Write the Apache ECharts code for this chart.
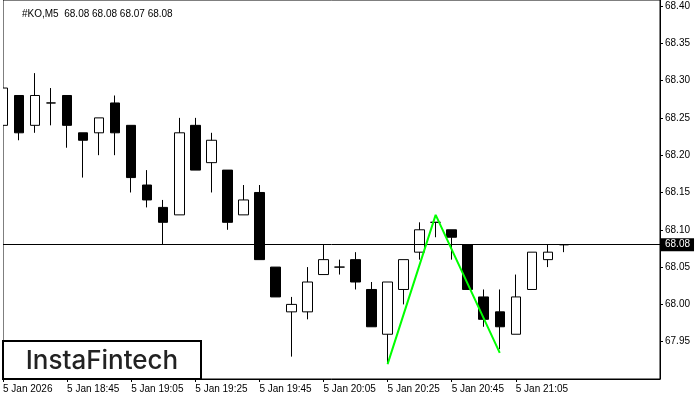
<!DOCTYPE html>
<html>
<head>
<meta charset="utf-8">
<script src="https://cdn.jsdelivr.net/npm/echarts@6/dist/echarts.min.js"></script>
<style>
  html, body { margin: 0; padding: 0; background: #fff; }
  #chart { width: 700px; height: 400px; }
</style>
</head>
<body>
<div id="chart"></div>
<script>
// 5分钟K线 #KO,M5
var candleTimes = [
  '18:25', '18:30', '18:35', '18:40', '18:45', '18:50', '18:55', '19:00', '19:05', '19:10',
  '19:15', '19:20', '19:25', '19:30', '19:35', '19:40', '19:45', '19:50', '19:55', '20:00',
  '20:05', '20:10', '20:15', '20:20', '20:25', '20:30', '20:35', '20:40', '20:45', '20:50',
  '20:55', '21:00', '21:05', '21:10', '21:15', '21:20',
  // 右侧空白
  '21:25', '21:30', '21:35', '21:40', '21:45', '21:50'
]
var openList = [68.24, 68.28, 68.24, 68.27, 68.28, 68.23, 68.23, 68.27, 68.24, 68.16,
  68.13, 68.12, 68.24, 68.19, 68.18, 68.12, 68.15, 68.05, 67.99, 67.99,
  68.04, 68.05, 68.06, 68.02, 67.96, 68.02, 68.07, 68.11, 68.10, 68.08,
  68.01, 67.99, 67.96, 68.02, 68.06, 68.08]
var closeList = [68.29, 68.23, 68.28, 68.27, 68.24, 68.22, 68.25, 68.23, 68.17, 68.14,
  68.11, 68.23, 68.18, 68.22, 68.11, 68.14, 68.06, 68.01, 68.00, 68.03,
  68.06, 68.05, 68.03, 67.97, 68.03, 68.06, 68.10, 68.11, 68.09, 68.02,
  67.98, 67.97, 68.01, 68.07, 68.07, 68.08]
var lowList = [68.20, 68.22, 68.23, 68.24, 68.21, 68.17, 68.20, 68.20, 68.15, 68.13,
  68.08, 68.12, 68.18, 68.15, 68.10, 68.12, 68.06, 68.01, 67.93, 67.98,
  68.04, 68.04, 68.02, 67.97, 67.92, 68.00, 68.06, 68.09, 68.06, 68.02,
  67.97, 67.94, 67.96, 68.02, 68.05, 68.07]
var highList = [68.29, 68.28, 68.31, 68.29, 68.28, 68.23, 68.25, 68.28, 68.24, 68.18,
  68.14, 68.25, 68.25, 68.23, 68.18, 68.16, 68.16, 68.05, 68.01, 68.05,
  68.08, 68.06, 68.07, 68.03, 68.03, 68.06, 68.11, 68.11, 68.10, 68.08,
  68.02, 68.02, 68.04, 68.07, 68.08, 68.08]
// 形态线（绿色）
var patternIdx = [24, 27, 31]
var patternVal = [67.92, 68.12, 67.935]
var lastPrice = 68.08
// 横轴标签
var xTickIdx = [0, 4, 8, 12, 16, 20, 24, 28, 32]
var xTickLabels = ['5 Jan 2026', '5 Jan 18:45', '5 Jan 19:05', '5 Jan 19:25', '5 Jan 19:45',
  '5 Jan 20:05', '5 Jan 20:25', '5 Jan 20:45', '5 Jan 21:05']

var kData = openList.map(function (o, i) {
  return [o, closeList[i], lowList[i], highList[i]]
})
var patternData = patternIdx.map(function (x, i) { return [x, patternVal[i]] })

var fontFamily = 'Liberation Sans'
var chart = echarts.init(document.getElementById('chart'))
chart.setOption({
  animation: false,
  backgroundColor: '#fff',
  title: {
    text: '#KO,M5  68.08 68.08 68.07 68.08',
    left: 17,
    top: 4,
    textStyle: { fontSize: 10, fontWeight: 'normal', color: '#000', fontFamily: fontFamily }
  },
  grid: {
    left: 3,
    right: 40,
    top: 0,
    bottom: 21,
    show: true,
    borderColor: '#000',
    borderWidth: 1
  },
  xAxis: {
    type: 'category',
    boundaryGap: false,
    data: candleTimes,
    axisLine: { lineStyle: { color: '#000', width: 1 } },
    axisTick: {
      length: 3,
      lineStyle: { color: '#000' },
      interval: function (i) { return xTickIdx.indexOf(i) >= 0 }
    },
    axisLabel: {
      interval: function (i) { return xTickIdx.indexOf(i) >= 0 },
      formatter: function (v, i) {
        var k = xTickIdx.indexOf(i)
        return k >= 0 ? xTickLabels[k] : ''
      },
      align: 'left',
      margin: 5,
      fontSize: 10,
      color: '#000',
      fontFamily: fontFamily
    },
    splitLine: { show: false }
  },
  yAxis: {
    type: 'value',
    position: 'right',
    min: 67.90,
    max: 68.408,
    interval: 0.05,
    scale: true,
    axisLine: { show: true, lineStyle: { color: '#000', width: 1 } },
    axisTick: { show: true, length: 3, lineStyle: { color: '#000' } },
    axisLabel: {
      showMinLabel: false,
      showMaxLabel: false,
      margin: 5,
      fontSize: 10,
      color: '#000',
      fontFamily: fontFamily,
      formatter: function (v) { return v.toFixed(2) }
    },
    splitLine: { show: false }
  },
  series: [{
    type: 'candlestick',
    data: kData,
    barWidth: 10,
    clip: true,
    itemStyle: {
      color: '#fff',
      color0: '#000',
      borderColor: '#000',
      borderColor0: '#000',
      borderWidth: 1
    },
    markLine: {
      silent: true,
      symbol: ['none', 'none'],
      lineStyle: { color: '#000', type: 'solid', width: 1 },
      label: {
        show: true,
        position: 'end',
        distance: 1,
        formatter: lastPrice.toFixed(2),
        color: '#fff',
        backgroundColor: '#000',
        padding: [2, 4, 1, 4],
        fontSize: 10,
        fontFamily: fontFamily
      },
      data: [{ yAxis: lastPrice }]
    }
  }, {
    type: 'line',
    data: patternData,
    symbol: 'none',
    lineStyle: { color: '#00ff00', width: 2 },
    z: 5
  }],
  graphic: [{
    // 左边界外的第一根K线遮掉
    type: 'rect',
    z: 50,
    shape: { x: 0, y: 0, width: 3, height: 380 },
    style: { fill: '#fff' }
  }, {
    type: 'rect',
    z: 100,
    shape: { x: 3, y: 341, width: 198, height: 38 },
    style: { fill: '#fff', stroke: '#000', lineWidth: 2 }
  }, {
    type: 'text',
    z: 101,
    x: 102,
    y: 361,
    style: {
      text: 'InstaFintech',
      fontSize: 26,
      fontFamily: 'Inter',
      fontWeight: 500,
      fill: '#222',
      align: 'center',
      verticalAlign: 'middle'
    }
  }]
})
</script>
</body>
</html>
